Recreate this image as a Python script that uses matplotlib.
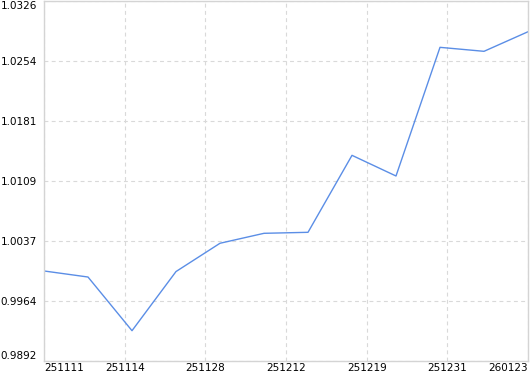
import matplotlib
matplotlib.use("Agg")
import matplotlib.pyplot as plt
import numpy as np

values = [1.00007, 0.99934, 0.99287, 1.00000, 1.00341, 1.00461,
          1.00473, 1.01401, 1.01152, 1.02703, 1.02655, 1.02891]
x_labels = ["251111", "251114", "251128", "251212", "251219", "251231", "260123"]
y_labels = ["0.9892", "0.9964", "1.0037", "1.0109", "1.0181", "1.0254", "1.0326"]
y_min, y_max = 0.98918, 1.03258

plt.rcParams['font.family'] = ['DejaVu Sans']
fig = plt.figure(figsize=(5.30, 3.74), dpi=100)
ax = fig.add_axes([44/530, 12.7/374, 484/530, 360/374])

xs = np.arange(len(values))
ax.plot(xs, values, color="#5b8ee6", lw=1.0)

ax.set_xlim(0, len(values) - 1)
ax.set_ylim(y_min, y_max)
xt = np.linspace(0, len(values) - 1, len(x_labels))
yt = np.linspace(y_min, y_max, len(y_labels))
ax.set_xticks(xt)
ax.set_xticklabels(x_labels)
ax.set_yticks(yt)
ax.set_yticklabels(y_labels)

ax.grid(True, color="#d9d9d9", ls=(0, (3.5, 3)), lw=0.8)
ax.tick_params(length=0, labelsize=7.5, colors="#000000", pad=1.5)
ax.tick_params(axis='y', pad=5)
for s in ax.spines.values():
    s.set_color("#d4d4d4")
    s.set_linewidth(1.0)

xl = ax.get_xticklabels()
xl[0].set_ha('left')
xl[-1].set_ha('right')
yl = ax.get_yticklabels()
yl[0].set_va('bottom')
yl[-1].set_va('top')

fig.savefig("out.png", dpi=100)
